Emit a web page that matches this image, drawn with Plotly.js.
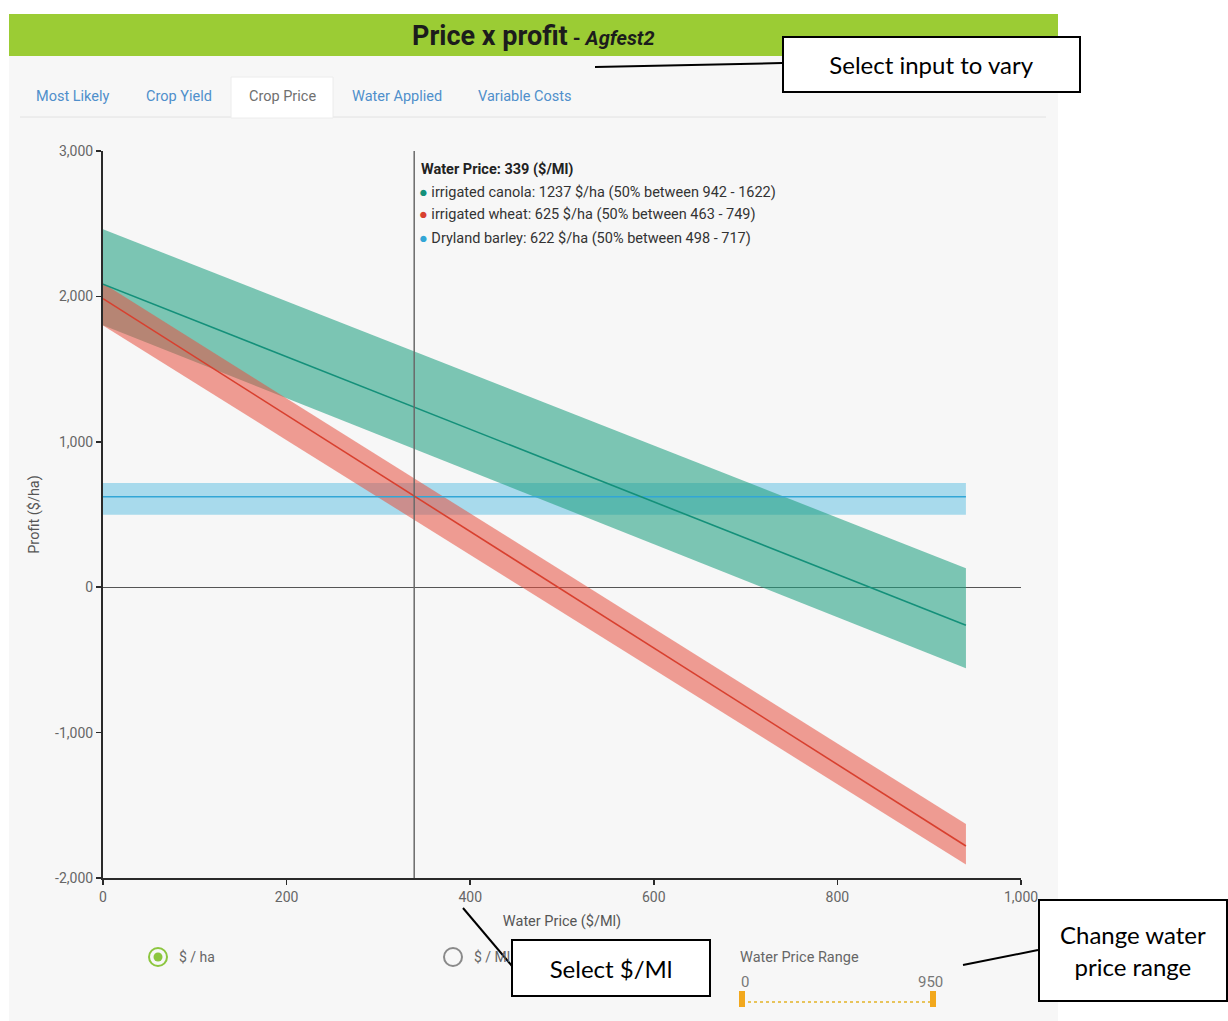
<!DOCTYPE html>
<html>
<head>
<meta charset="utf-8">
<script src="https://cdn.plot.ly/plotly-3.0.1.min.js"></script>
<style>
  html, body { margin: 0; padding: 0; background: #ffffff; }
  #chart { width: 1228px; height: 1021px; }
</style>
</head>
<body>
<div id="chart"></div>
<script>
// ---------- data ----------
const waterPrice = [0, 200, 400, 600, 800, 940];

const canolaMid   = [2084, 1585, 1086, 587, 88, -261];
const canolaLow   = [1802, 1300, 798, 296, -206, -557];
const canolaHigh  = [2462, 1966, 1470, 974, 478, 131];

const wheatMid    = [1985, 1184, 383, -418, -1219, -1780];
const wheatLow    = [1800, 1011, 222, -567, -1356, -1907];
const wheatHigh   = [2090, 1299, 508, -283, -1074, -1629];

const barleyMid   = [622, 622, 622, 622, 622, 622];
const barleyLow   = [498, 498, 498, 498, 498, 498];
const barleyHigh  = [717, 717, 717, 717, 717, 717];

const yTickVals   = [-2000, -1000, 0, 1000, 2000, 3000];
const yTickText   = ["-2,000", "-1,000", "0", "1,000", "2,000", "3,000"];
const xTickVals   = [0, 200, 400, 600, 800, 1000];
const xTickText   = ["0", "200", "400", "600", "800", "1,000"];

const cursorPrice = 339;
const hoverLines = [
  {name: "irrigated canola", value: 1237, lo: 942, hi: 1622},
  {name: "irrigated wheat",  value: 625,  lo: 463, hi: 749},
  {name: "Dryland barley",   value: 622,  lo: 498, hi: 717}
];
const tabs = ["Most Likely", "Crop Yield", "Crop Price", "Water Applied", "Variable Costs"];
const rangeMin = 0, rangeMax = 950;

// ---------- styling ----------
const C = {
  canolaFill: "rgba(32,160,130,0.58)", canolaLine: "#14907a",
  wheatFill:  "rgba(232,80,64,0.55)",  wheatLine:  "#d8402f",
  barleyFill: "rgba(90,190,225,0.50)", barleyLine: "#32a6d6"
};

function band(x, lo, hi, fill) {
  return {
    x: x.concat(x.slice().reverse()),
    y: hi.concat(lo.slice().reverse()),
    type: "scatter", mode: "lines", fill: "toself", fillcolor: fill,
    line: {width: 0}, hoverinfo: "skip", showlegend: false
  };
}
function mid(x, y, color) {
  return {x: x, y: y, type: "scatter", mode: "lines",
          line: {color: color, width: 1.6}, showlegend: false, hoverinfo: "skip"};
}

const traces = [
  band(waterPrice, barleyLow, barleyHigh, C.barleyFill),
  band(waterPrice, canolaLow, canolaHigh, C.canolaFill),
  band(waterPrice, wheatLow, wheatHigh, C.wheatFill),
  mid(waterPrice, barleyMid, C.barleyLine),
  mid(waterPrice, canolaMid, C.canolaLine),
  mid(waterPrice, wheatMid, C.wheatLine)
];

// pixel -> paper helpers (plot area: x 103..1021, y 151..878)
const L = 103, R = 1021, T = 151, B = 878;
const P = px => (px - L) / (R - L);
const Q = py => (B - py) / (B - T);

const shapes = [];
const ann = [];
const UI = "Roboto";

// app panel background
shapes.push({type: "rect", xref: "paper", yref: "paper", layer: "below",
  x0: P(9), x1: P(1058), y0: Q(1021), y1: Q(56), fillcolor: "#f7f7f7", line: {width: 0}});
// green header bar
shapes.push({type: "rect", xref: "paper", yref: "paper", layer: "below",
  x0: P(9), x1: P(1058), y0: Q(56), y1: Q(14), fillcolor: "#9bcc34", line: {width: 0}});
// tab row underline
shapes.push({type: "line", xref: "paper", yref: "paper", layer: "below",
  x0: P(20), x1: P(1046), y0: Q(117), y1: Q(117), line: {color: "#e2e2e2", width: 1}});
// active tab
shapes.push({type: "rect", xref: "paper", yref: "paper", layer: "below",
  x0: P(231), x1: P(333), y0: Q(118), y1: Q(77), fillcolor: "#ffffff",
  line: {color: "#ececec", width: 1}});

// vertical cursor line
shapes.push({type: "line", xref: "x", yref: "paper", layer: "above",
  x0: cursorPrice, x1: cursorPrice, y0: 0, y1: 1, line: {color: "#6a6a6a", width: 1.5}});

// title
ann.push({xref: "paper", yref: "paper", x: P(533), y: Q(36), xanchor: "center", yanchor: "middle",
  showarrow: false,
  text: "<b>Price x profit</b><b style='font-size:20px'> - <i>Agfest2</i></b>",
  font: {family: UI, size: 27, color: "#1c1c1c"}});

// tabs
const tabX = [73, 179, 282, 397, 525];
tabs.forEach((t, i) => {
  ann.push({xref: "paper", yref: "paper", x: P(tabX[i]), y: Q(97), xanchor: "center", yanchor: "middle",
    showarrow: false, text: t,
    font: {family: UI, size: 14.5, color: t === "Crop Price" ? "#707070" : "#4f8fcb"}});
});

// hover readout
ann.push({xref: "paper", yref: "paper", x: P(419), y: Q(169), xanchor: "left", yanchor: "middle",
  showarrow: false, text: "<b>Water Price: " + cursorPrice + " ($/Ml)</b>",
  font: {family: UI, size: 14.5, color: "#222"}});
const dotColors = [C.canolaLine, C.wheatLine, C.barleyLine];
hoverLines.forEach((h, i) => {
  ann.push({xref: "paper", yref: "paper", x: P(417), y: Q(192 + 23 * i), xanchor: "left", yanchor: "middle",
    showarrow: false,
    text: "<span style='color:" + dotColors[i] + "'>●</span> " + h.name + ": " + h.value +
          " $/ha (50% between " + h.lo + " - " + h.hi + ")",
    font: {family: UI, size: 14.5, color: "#333"}});
});

// radio buttons
shapes.push({type: "circle", xref: "paper", yref: "paper", x0: P(149), x1: P(167), y0: Q(966), y1: Q(948),
  line: {color: "#8cc63f", width: 2}, fillcolor: "rgba(0,0,0,0)"});
shapes.push({type: "circle", xref: "paper", yref: "paper", x0: P(153.5), x1: P(162.5), y0: Q(961.5), y1: Q(952.5),
  line: {width: 0}, fillcolor: "#8cc63f"});
shapes.push({type: "circle", xref: "paper", yref: "paper", x0: P(444), x1: P(462), y0: Q(966), y1: Q(948),
  line: {color: "#8a8a8a", width: 2}, fillcolor: "rgba(0,0,0,0)"});
ann.push({xref: "paper", yref: "paper", x: P(177), y: Q(957), xanchor: "left", yanchor: "middle",
  showarrow: false, text: "$ / ha", font: {family: UI, size: 14, color: "#666"}});
ann.push({xref: "paper", yref: "paper", x: P(472), y: Q(957), xanchor: "left", yanchor: "middle",
  showarrow: false, text: "$ / Ml", font: {family: UI, size: 14, color: "#666"}});

// slider
ann.push({xref: "paper", yref: "paper", x: P(738), y: Q(957), xanchor: "left", yanchor: "middle",
  showarrow: false, text: "Water Price Range", font: {family: UI, size: 14.5, color: "#666"}});
ann.push({xref: "paper", yref: "paper", x: P(745), y: Q(982), xanchor: "center", yanchor: "middle",
  showarrow: false, text: String(rangeMin), font: {family: UI, size: 15, color: "#777"}});
ann.push({xref: "paper", yref: "paper", x: P(930), y: Q(982), xanchor: "center", yanchor: "middle",
  showarrow: false, text: String(rangeMax), font: {family: UI, size: 15, color: "#777"}});
shapes.push({type: "line", xref: "paper", yref: "paper", x0: P(742), x1: P(933), y0: Q(1002), y1: Q(1002),
  line: {color: "#e8c45a", width: 2, dash: "dot"}});
shapes.push({type: "rect", xref: "paper", yref: "paper", x0: P(739), x1: P(745), y0: Q(1007), y1: Q(991),
  line: {width: 0}, fillcolor: "#f2a81d"});
shapes.push({type: "rect", xref: "paper", yref: "paper", x0: P(930), x1: P(936), y0: Q(1007), y1: Q(991),
  line: {width: 0}, fillcolor: "#f2a81d"});

// callout connector lines
shapes.push({type: "line", xref: "paper", yref: "paper", x0: P(595), x1: P(782), y0: Q(67), y1: Q(63),
  line: {color: "#000", width: 2}});
shapes.push({type: "line", xref: "paper", yref: "paper", x0: P(463), x1: P(512), y0: Q(908), y1: Q(966),
  line: {color: "#000", width: 2}});
shapes.push({type: "line", xref: "paper", yref: "paper", x0: P(963), x1: P(1038), y0: Q(965), y1: Q(950),
  line: {color: "#000", width: 2}});

// callout boxes (drawn last so they cover what is under them)
function callout(x0, y0, x1, y1, text) {
  ann.push({xref: "paper", yref: "paper", x: P((x0 + x1) / 2), y: Q((y0 + y1) / 2),
    xanchor: "center", yanchor: "middle", showarrow: false, text: text,
    width: x1 - x0 - 4, height: y1 - y0 - 4, align: "center", valign: "middle",
    bgcolor: "#ffffff", bordercolor: "#000000", borderwidth: 2, borderpad: 0,
    font: {family: "Lato", size: 24, color: "#000"}});
}
callout(782, 36, 1081, 93, "Select input to vary");
callout(511, 939, 711, 997, "Select $/Ml");
callout(1038, 899, 1228, 1002, "Change water<br>price range");

const layout = {
  width: 1228, height: 1021,
  margin: {l: L, r: 1228 - R, t: T, b: 1021 - B, pad: 0},
  paper_bgcolor: "#ffffff",
  plot_bgcolor: "rgba(0,0,0,0)",
  font: {family: UI, color: "#666"},
  showlegend: false,
  xaxis: {
    range: [0, 1000], tickmode: "array", tickvals: xTickVals, ticktext: xTickText,
    showgrid: false, zeroline: false,
    showline: true, linecolor: "#2a2a2a", linewidth: 2,
    ticks: "outside", ticklen: 5, tickcolor: "#2a2a2a", tickwidth: 1.5,
    tickfont: {family: UI, size: 14, color: "#666"},
    title: {text: "Water Price ($/Ml)", font: {family: UI, size: 14.5, color: "#555"}, standoff: 12}
  },
  yaxis: {
    range: [-2000, 3000], tickmode: "array", tickvals: yTickVals, ticktext: yTickText,
    showgrid: false,
    zeroline: true, zerolinecolor: "#555", zerolinewidth: 1.2,
    showline: true, linecolor: "#2a2a2a", linewidth: 2,
    ticks: "outside", ticklen: 5, tickcolor: "#2a2a2a", tickwidth: 1.5,
    tickfont: {family: UI, size: 14, color: "#666"},
    title: {text: "Profit ($/ha)", font: {family: UI, size: 14.5, color: "#555"}, standoff: 12}
  },
  shapes: shapes,
  annotations: ann
};

Plotly.newPlot("chart", traces, layout, {displayModeBar: false, staticPlot: true});
</script>
</body>
</html>
